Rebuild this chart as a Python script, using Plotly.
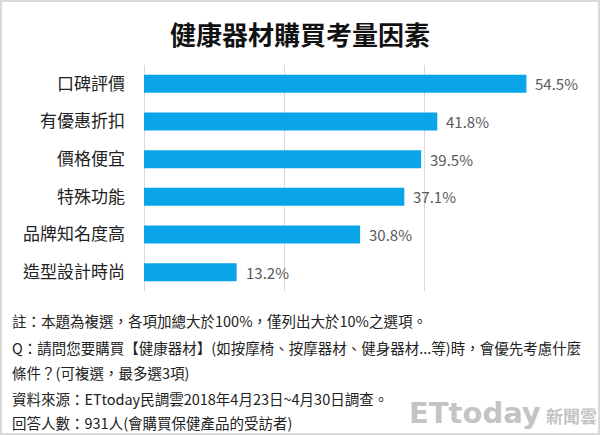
import plotly.graph_objects as go

categories = ["口碑評價", "有優惠折扣", "價格便宜", "特殊功能", "品牌知名度高", "造型設計時尚"]
values = [54.5, 41.8, 39.5, 37.1, 30.8, 13.2]
title_text = "健康器材購買考量因素"
notes = [
    "註：本題為複選，各項加總大於100%，僅列出大於10%之選項。",
    "Q：請問您要購買【健康器材】(如按摩椅、按摩器材、健身器材...等)時，會優先考慮什麼",
    "條件？(可複選，最多選3項)",
    "資料來源：ETtoday民調雲2018年4月23日~4月30日調查。",
    "回答人數：931人(會購買保健產品的受訪者)",
]

W, H = 600, 435
L, R, T, B = 144, 35, 65, 144
plot_h = H - T - B

def py(p):
    return (H - B - p) / plot_h

def px(p):
    return (p - L) / (W - L - R)

FONT = "Noto Sans CJK TC"
BAR = "#0AA5E8"

fig = go.Figure()
fig.add_trace(go.Bar(
    x=values, y=categories, orientation="h",
    marker=dict(color=BAR, line=dict(width=0)),
    hoverinfo="skip",
))

annotations = []
for c, v in zip(categories, values):
    annotations.append(dict(x=v, y=c, xref="x", yref="y", text=f"{v:.1f}%",
                            showarrow=False, xanchor="left", xshift=7,
                            font=dict(family=FONT, size=15, color="#595959")))

annotations.append(dict(x=px(300), y=py(33), xref="paper", yref="paper", text=f"<b>{title_text}</b>",
                        showarrow=False, xanchor="center", yanchor="middle",
                        font=dict(family=FONT, size=26, color="#111111")))

note_y = [320, 347, 372, 398, 422]
for t, yy in zip(notes, note_y):
    annotations.append(dict(x=px(10), y=py(yy), xref="paper", yref="paper", text=t,
                            showarrow=False, xanchor="left", yanchor="middle",
                            font=dict(family=FONT, size=14.5, color="#222222")))

annotations.append(dict(x=px(543), y=py(413), xref="paper", yref="paper", text="<b>ETtoday</b>",
                        showarrow=False, xanchor="right", yanchor="middle",
                        font=dict(family="DejaVu Sans", size=29, color="#c4c4c4")))
annotations.append(dict(x=px(544), y=py(415), xref="paper", yref="paper", text="<b>新聞雲</b>",
                        showarrow=False, xanchor="left", yanchor="middle",
                        font=dict(family=FONT, size=17, color="#c4c4c4")))

fig.update_layout(
    width=W, height=H,
    margin=dict(l=L, r=R, t=T, b=B, pad=0),
    paper_bgcolor="white", plot_bgcolor="white",
    showlegend=False,
    bargap=0.52,
    annotations=annotations,
    shapes=[dict(type="rect", xref="paper", yref="paper",
                 x0=px(1), x1=px(W - 1), y0=py(H - 1), y1=py(1),
                 line=dict(color="#d9d9d9", width=2), fillcolor="rgba(0,0,0,0)", layer="below")],
    xaxis=dict(range=[0, 60], dtick=20, showgrid=True, gridcolor="#d9d9d9", gridwidth=1,
               showticklabels=False, zeroline=True, zerolinecolor="#d9d9d9", zerolinewidth=1,
               showline=False, fixedrange=True),
    yaxis=dict(autorange="reversed", showgrid=False, zeroline=False, showline=False,
               ticks="", ticklabelstandoff=18,
               tickfont=dict(family=FONT, size=17, color="#222222"), fixedrange=True),
)

fig.write_html("out.html", config={"displayModeBar": False})
